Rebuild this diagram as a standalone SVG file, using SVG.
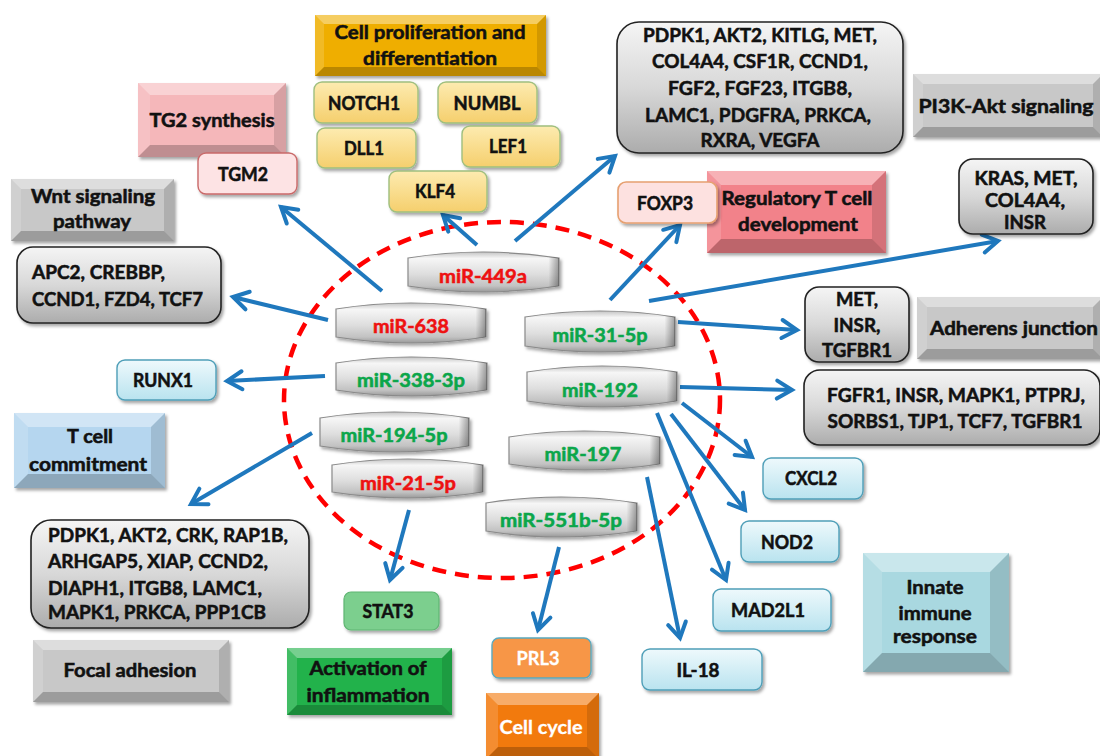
<svg xmlns="http://www.w3.org/2000/svg" width="1100" height="756" viewBox="0 0 1100 756">
<style>
text{font-family:Lato,"Liberation Sans",Arial,sans-serif;font-weight:700;font-size:19px;fill:#111;stroke:#111;stroke-width:.55;text-anchor:middle}
.l{text-anchor:start}
.red{fill:#ee1111;stroke:#ee1111}
.grn{fill:#0ba64a;stroke:#0ba64a}
.wht{fill:#fff;stroke:#fff;stroke-width:.3}
.bt{fill:#fff;fill-opacity:.38}
.bl{fill:#fff;fill-opacity:.15}
.br{fill:#000;fill-opacity:.12}
.bb{fill:#000;fill-opacity:.22}
.conn line{stroke:#1f78bd;stroke-width:4;marker-end:url(#ah)}
.gray{fill:url(#gGray);stroke:#222;stroke-width:1.6}
.yel{fill:url(#gYel);stroke:#9fbf7f;stroke-width:1.4}
.blu{fill:url(#gBlu);stroke:#4f9fb8;stroke-width:1.4}
.mir{fill:url(#gMir);stroke:#8a8a8a;stroke-width:1.2}
.sh{filter:url(#ds)}
</style>
<defs>
<filter id="ds" x="-10%" y="-10%" width="125%" height="130%"><feDropShadow dx="2" dy="2.5" stdDeviation="1.5" flood-color="#000" flood-opacity=".35"/></filter>
<linearGradient id="gGray" x1="0" y1="0" x2="0" y2="1"><stop offset="0" stop-color="#f5f5f5"/><stop offset=".5" stop-color="#d8d8d8"/><stop offset="1" stop-color="#acacac"/></linearGradient>
<linearGradient id="gYel" x1="0" y1="0" x2="0" y2="1"><stop offset="0" stop-color="#fdebb0"/><stop offset="1" stop-color="#f5cf6d"/></linearGradient>
<linearGradient id="gBlu" x1="0" y1="0" x2="0" y2="1"><stop offset="0" stop-color="#eef9fc"/><stop offset="1" stop-color="#b9e3ef"/></linearGradient>
<linearGradient id="gMir" x1="0" y1="0" x2="0" y2="1"><stop offset="0" stop-color="#c4c4c4"/><stop offset=".16" stop-color="#f6f6f6"/><stop offset=".55" stop-color="#dedede"/><stop offset=".85" stop-color="#c2c2c2"/><stop offset="1" stop-color="#999"/></linearGradient>
<linearGradient id="gMirR" x1="0" y1="0" x2="1" y2="0"><stop offset="0" stop-color="#000" stop-opacity="0"/><stop offset=".93" stop-color="#000" stop-opacity="0"/><stop offset="1" stop-color="#000" stop-opacity=".35"/></linearGradient>
<marker id="ah" markerUnits="userSpaceOnUse" markerWidth="24" markerHeight="24" viewBox="0 0 24 24" refX="20" refY="12" orient="auto"><path d="M5,3 L20,12 L5,21" fill="none" stroke="#1f78bd" stroke-width="4" stroke-linecap="round" stroke-linejoin="miter"/></marker>
</defs>
<rect width="1100" height="756" fill="#fff"/>

<ellipse id="boundary" cx="502" cy="400" rx="218" ry="178" fill="none" stroke="#ff0000" stroke-width="4.5" stroke-dasharray="14 9"/>

<g class="conn" id="connectors">
<line x1="382" y1="291" x2="281" y2="207"/>
<line x1="477" y1="245" x2="443" y2="215"/>
<line x1="515" y1="241" x2="615" y2="156"/>
<line x1="328" y1="320" x2="233" y2="297"/>
<line x1="325" y1="376" x2="227" y2="381"/>
<line x1="312" y1="433" x2="191" y2="504"/>
<line x1="409" y1="510" x2="390" y2="580"/>
<line x1="559" y1="547" x2="538" y2="630"/>
<line x1="647" y1="477" x2="680" y2="638"/>
<line x1="610" y1="300" x2="680" y2="225"/>
<line x1="649" y1="301" x2="998" y2="241"/>
<line x1="678" y1="322" x2="797" y2="330"/>
<line x1="680" y1="387" x2="792" y2="390"/>
<line x1="682" y1="403" x2="752" y2="457"/>
<line x1="671" y1="414" x2="745" y2="510"/>
<line x1="657" y1="413" x2="726" y2="580"/>
</g>

<!-- category bevel boxes -->
<g id="cell-proliferation">
<rect class="sh" x="315" y="15" width="231" height="61" fill="#efae05"/>
<polygon class="bt" points="315,15 546,15 537,24 324,24"/><polygon class="bl" points="315,15 324,24 324,67 315,76"/><polygon class="br" points="546,15 546,76 537,67 537,24"/><polygon class="bb" points="315,76 324,67 537,67 546,76"/>
<text x="430" y="39" textLength="191" lengthAdjust="spacingAndGlyphs">Cell proliferation and</text>
<text x="430" y="65" textLength="134" lengthAdjust="spacingAndGlyphs">differentiation</text>
</g>
<g id="tg2-synthesis">
<rect class="sh" x="138" y="83" width="148" height="74" fill="#f5b7ba"/>
<polygon class="bt" points="138,83 286,83 274,95 150,95"/><polygon class="bl" points="138,83 150,95 150,145 138,157"/><polygon class="br" points="286,83 286,157 274,145 274,95"/><polygon class="bb" points="138,157 150,145 274,145 286,157"/>
<text x="212" y="127" textLength="125" lengthAdjust="spacingAndGlyphs">TG2 synthesis</text>
</g>
<g id="wnt">
<rect class="sh" x="11" y="179" width="163" height="62" fill="#c8c8c8"/>
<polygon class="bt" points="11,179 174,179 164,189 21,189"/><polygon class="bl" points="11,179 21,189 21,231 11,241"/><polygon class="br" points="174,179 174,241 164,231 164,189"/><polygon class="bb" points="11,241 21,231 164,231 174,241"/>
<text x="93" y="203" textLength="124" lengthAdjust="spacingAndGlyphs">Wnt signaling</text>
<text x="92" y="228" textLength="78" lengthAdjust="spacingAndGlyphs">pathway</text>
</g>
<g id="t-cell-commitment">
<rect class="sh" x="14" y="413" width="151" height="75" fill="#b5d6ef"/>
<polygon class="bt" points="14,413 165,413 151,427 28,427"/><polygon class="bl" points="14,413 28,427 28,474 14,488"/><polygon class="br" points="165,413 165,488 151,474 151,427"/><polygon class="bb" points="14,488 28,474 151,474 165,488"/>
<text x="90" y="443" textLength="46" lengthAdjust="spacingAndGlyphs">T cell</text>
<text x="88" y="471" textLength="118" lengthAdjust="spacingAndGlyphs">commitment</text>
</g>
<g id="pi3k">
<rect class="sh" x="913" y="74" width="190" height="63" fill="#c8c8c8"/>
<polygon class="bt" points="913,74 1103,74 1093,84 923,84"/><polygon class="bl" points="913,74 923,84 923,127 913,137"/><polygon class="br" points="1103,74 1103,137 1093,127 1093,84"/><polygon class="bb" points="913,137 923,127 1093,127 1103,137"/>
<text x="1006" y="113" textLength="175" lengthAdjust="spacingAndGlyphs">PI3K-Akt signaling</text>
</g>
<g id="regulatory-t">
<rect class="sh" x="707" y="171" width="179" height="82" fill="#f2828a"/>
<polygon class="bt" points="707,171 886,171 872,185 721,185"/><polygon class="bl" points="707,171 721,185 721,239 707,253"/><polygon class="br" points="886,171 886,253 872,239 872,185"/><polygon class="bb" points="707,253 721,239 872,239 886,253"/>
<text x="797" y="205" textLength="151" lengthAdjust="spacingAndGlyphs">Regulatory T cell</text>
<text x="798" y="231" textLength="120" lengthAdjust="spacingAndGlyphs">development</text>
</g>
<g id="adherens">
<rect class="sh" x="917" y="297" width="186" height="62" fill="#c8c8c8"/>
<polygon class="bt" points="917,297 1103,297 1093,307 927,307"/><polygon class="bl" points="917,297 927,307 927,349 917,359"/><polygon class="br" points="1103,297 1103,359 1093,349 1093,307"/><polygon class="bb" points="917,359 927,349 1093,349 1103,359"/>
<text x="1014" y="335" textLength="168" lengthAdjust="spacingAndGlyphs">Adherens junction</text>
</g>
<g id="focal-adhesion">
<rect class="sh" x="33" y="640" width="196" height="62" fill="#c8c8c8"/>
<polygon class="bt" points="33,640 229,640 219,650 43,650"/><polygon class="bl" points="33,640 43,650 43,692 33,702"/><polygon class="br" points="229,640 229,702 219,692 219,650"/><polygon class="bb" points="33,702 43,692 219,692 229,702"/>
<text x="130" y="677" textLength="133" lengthAdjust="spacingAndGlyphs">Focal adhesion</text>
</g>
<g id="inflammation">
<rect class="sh" x="287" y="648" width="165" height="67" fill="#20b24b"/>
<polygon class="bt" points="287,648 452,648 442,658 297,658"/><polygon class="bl" points="287,648 297,658 297,705 287,715"/><polygon class="br" points="452,648 452,715 442,705 442,658"/><polygon class="bb" points="287,715 297,705 442,705 452,715"/>
<text x="368" y="675" textLength="117" lengthAdjust="spacingAndGlyphs">Activation of</text>
<text x="368" y="702" textLength="123" lengthAdjust="spacingAndGlyphs">inflammation</text>
</g>
<g id="cell-cycle">
<rect class="sh" x="486" y="693" width="113" height="66" fill="#f27a0e"/>
<polygon class="bt" points="486,693 599,693 587,705 498,705"/><polygon class="bl" points="486,693 498,705 498,747 486,759"/><polygon class="br" points="599,693 599,759 587,747 587,705"/><polygon class="bb" points="486,759 498,747 587,747 599,759"/>
<text class="wht" x="541" y="734" textLength="83" lengthAdjust="spacingAndGlyphs">Cell cycle</text>
</g>
<g id="innate">
<rect class="sh" x="863" y="553" width="146" height="119" fill="#a9d8e0"/>
<polygon class="bt" points="863,553 1009,553 990,572 882,572"/><polygon class="bl" points="863,553 882,572 882,653 863,672"/><polygon class="br" points="1009,553 1009,672 990,653 990,572"/><polygon class="bb" points="863,672 882,653 990,653 1009,672"/>
<text x="935" y="594" textLength="57" lengthAdjust="spacingAndGlyphs">Innate</text>
<text x="935" y="620" textLength="73" lengthAdjust="spacingAndGlyphs">immune</text>
<text x="935" y="643" textLength="84" lengthAdjust="spacingAndGlyphs">response</text>
</g>

<!-- gene boxes -->
<g id="notch1"><rect class="yel sh" x="314" y="82" width="104" height="41" rx="8"/><text x="364" y="110" textLength="72" lengthAdjust="spacingAndGlyphs">NOTCH1</text></g>
<g id="numbl"><rect class="yel sh" x="438" y="82" width="99" height="41" rx="8"/><text x="487" y="110" textLength="67" lengthAdjust="spacingAndGlyphs">NUMBL</text></g>
<g id="dll1"><rect class="yel sh" x="317" y="128" width="99" height="40" rx="8"/><text x="364" y="155" textLength="40" lengthAdjust="spacingAndGlyphs">DLL1</text></g>
<g id="lef1"><rect class="yel sh" x="462" y="126" width="98" height="41" rx="8"/><text x="508" y="153" textLength="38" lengthAdjust="spacingAndGlyphs">LEF1</text></g>
<g id="klf4"><rect class="yel sh" x="389" y="171" width="98" height="41" rx="8"/><text x="435" y="198" textLength="40" lengthAdjust="spacingAndGlyphs">KLF4</text></g>
<g id="tgm2"><rect class="sh" x="198" y="153" width="99" height="41" rx="8" fill="#fde3e4" stroke="#c96a6a" stroke-width="1.4"/><text x="243" y="181" textLength="50" lengthAdjust="spacingAndGlyphs">TGM2</text></g>
<g id="wnt-genes"><rect class="gray sh" x="17" y="247" width="204" height="76" rx="16"/>
<text class="l" x="32" y="279" textLength="133" lengthAdjust="spacingAndGlyphs">APC2, CREBBP,</text>
<text class="l" x="32" y="306" textLength="171" lengthAdjust="spacingAndGlyphs">CCND1, FZD4, TCF7</text></g>
<g id="runx1"><rect class="blu sh" x="117" y="360" width="99" height="40" rx="8"/><text x="163" y="387" textLength="60" lengthAdjust="spacingAndGlyphs">RUNX1</text></g>
<g id="pi3k-genes"><rect class="gray sh" x="617" y="22" width="286" height="131" rx="22"/>
<text x="760" y="42" textLength="234" lengthAdjust="spacingAndGlyphs">PDPK1, AKT2, KITLG, MET,</text>
<text x="760" y="68" textLength="216" lengthAdjust="spacingAndGlyphs">COL4A4, CSF1R, CCND1,</text>
<text x="760" y="95" textLength="184" lengthAdjust="spacingAndGlyphs">FGF2, FGF23, ITGB8,</text>
<text x="758" y="122" textLength="226" lengthAdjust="spacingAndGlyphs">LAMC1, PDGFRA, PRKCA,</text>
<text x="760" y="147" textLength="119" lengthAdjust="spacingAndGlyphs">RXRA, VEGFA</text></g>
<g id="foxp3"><rect class="sh" x="618" y="182" width="99" height="41" rx="8" fill="#fde1e0" stroke="#e6a070" stroke-width="1.6"/><text x="665" y="210" textLength="56" lengthAdjust="spacingAndGlyphs">FOXP3</text></g>
<g id="kras-genes"><rect class="gray sh" x="959" y="159" width="134" height="75" rx="14"/>
<text x="1026" y="185" textLength="103" lengthAdjust="spacingAndGlyphs">KRAS, MET,</text>
<text x="1025" y="207" textLength="80" lengthAdjust="spacingAndGlyphs">COL4A4,</text>
<text x="1025" y="229" textLength="42" lengthAdjust="spacingAndGlyphs">INSR</text></g>
<g id="adherens-genes-1"><rect class="gray sh" x="805" y="287" width="104" height="75" rx="14"/>
<text x="857" y="306" textLength="42" lengthAdjust="spacingAndGlyphs">MET,</text>
<text x="857" y="332" textLength="47" lengthAdjust="spacingAndGlyphs">INSR,</text>
<text x="857" y="357" textLength="70" lengthAdjust="spacingAndGlyphs">TGFBR1</text></g>
<g id="adherens-genes-2"><rect class="gray sh" x="804" y="370" width="296" height="75" rx="16"/>
<text x="956" y="402" textLength="258" lengthAdjust="spacingAndGlyphs">FGFR1, INSR, MAPK1, PTPRJ,</text>
<text x="955" y="428" textLength="255" lengthAdjust="spacingAndGlyphs">SORBS1, TJP1, TCF7, TGFBR1</text></g>
<g id="cxcl2"><rect class="blu sh" x="763" y="458" width="100" height="41" rx="8"/><text x="811" y="485" textLength="52" lengthAdjust="spacingAndGlyphs">CXCL2</text></g>
<g id="nod2"><rect class="blu sh" x="741" y="521" width="98" height="41" rx="8"/><text x="787" y="549" textLength="52" lengthAdjust="spacingAndGlyphs">NOD2</text></g>
<g id="mad2l1"><rect class="blu sh" x="713" y="589" width="118" height="42" rx="8"/><text x="768" y="617" textLength="74" lengthAdjust="spacingAndGlyphs">MAD2L1</text></g>
<g id="il18"><rect class="blu sh" x="642" y="649" width="120" height="41" rx="8"/><text x="698" y="677" textLength="43" lengthAdjust="spacingAndGlyphs">IL-18</text></g>
<g id="focal-genes"><rect class="gray sh" x="31" y="520" width="278" height="108" rx="20"/>
<text class="l" x="48" y="542" textLength="240" lengthAdjust="spacingAndGlyphs">PDPK1, AKT2, CRK, RAP1B,</text>
<text class="l" x="48" y="568" textLength="220" lengthAdjust="spacingAndGlyphs">ARHGAP5, XIAP, CCND2,</text>
<text class="l" x="48" y="595" textLength="214" lengthAdjust="spacingAndGlyphs">DIAPH1, ITGB8, LAMC1,</text>
<text class="l" x="48" y="619" textLength="218" lengthAdjust="spacingAndGlyphs">MAPK1, PRKCA, PPP1CB</text></g>
<g id="stat3"><rect class="sh" x="344" y="592" width="95" height="38" rx="7" fill="#7ccf8e" stroke="#5fb572" stroke-width="1.2"/><text x="388" y="618" textLength="51" lengthAdjust="spacingAndGlyphs">STAT3</text></g>
<g id="prl3"><rect class="sh" x="492" y="638" width="99" height="40" rx="7" fill="#f79646" stroke="#5aa9bf" stroke-width="1.4"/><text class="wht" x="538" y="665" textLength="43" lengthAdjust="spacingAndGlyphs">PRL3</text></g>

<!-- miRNAs -->
<g id="mir-449a"><path class="mir sh" d="M408,258 Q483,246 559,258 L559,286 Q483,298 408,286 Z"/><path d="M408,258 Q483,246 559,258 L559,286 Q483,298 408,286 Z" fill="url(#gMirR)"/><text class="red" x="483" y="283" textLength="88" lengthAdjust="spacingAndGlyphs">miR-449a</text></g>
<g id="mir-638"><path class="mir sh" d="M336,309 Q411,297 486,309 L486,337 Q411,349 336,337 Z"/><path d="M336,309 Q411,297 486,309 L486,337 Q411,349 336,337 Z" fill="url(#gMirR)"/><text class="red" x="411" y="333" textLength="76" lengthAdjust="spacingAndGlyphs">miR-638</text></g>
<g id="mir-338-3p"><path class="mir sh" d="M336,363 Q411,351 487,363 L487,390 Q411,402 336,390 Z"/><path d="M336,363 Q411,351 487,363 L487,390 Q411,402 336,390 Z" fill="url(#gMirR)"/><text class="grn" x="411" y="387" textLength="108" lengthAdjust="spacingAndGlyphs">miR-338-3p</text></g>
<g id="mir-194-5p"><path class="mir sh" d="M320,418 Q394,406 469,418 L469,446 Q394,458 320,446 Z"/><path d="M320,418 Q394,406 469,418 L469,446 Q394,458 320,446 Z" fill="url(#gMirR)"/><text class="grn" x="394" y="442" textLength="107" lengthAdjust="spacingAndGlyphs">miR-194-5p</text></g>
<g id="mir-21-5p"><path class="mir sh" d="M332,465 Q408,453 483,465 L483,492 Q408,504 332,492 Z"/><path d="M332,465 Q408,453 483,465 L483,492 Q408,504 332,492 Z" fill="url(#gMirR)"/><text class="red" x="408" y="490" textLength="96" lengthAdjust="spacingAndGlyphs">miR-21-5p</text></g>
<g id="mir-31-5p"><path class="mir sh" d="M525,317 Q600,305 675,317 L675,346 Q600,358 525,346 Z"/><path d="M525,317 Q600,305 675,317 L675,346 Q600,358 525,346 Z" fill="url(#gMirR)"/><text class="grn" x="600" y="342" textLength="95" lengthAdjust="spacingAndGlyphs">miR-31-5p</text></g>
<g id="mir-192"><path class="mir sh" d="M527,372 Q602,360 677,372 L677,401 Q602,413 527,401 Z"/><path d="M527,372 Q602,360 677,372 L677,401 Q602,413 527,401 Z" fill="url(#gMirR)"/><text class="grn" x="600" y="397" textLength="76" lengthAdjust="spacingAndGlyphs">miR-192</text></g>
<g id="mir-197"><path class="mir sh" d="M509,437 Q584,425 660,437 L660,464 Q584,476 509,464 Z"/><path d="M509,437 Q584,425 660,437 L660,464 Q584,476 509,464 Z" fill="url(#gMirR)"/><text class="grn" x="583" y="461" textLength="77" lengthAdjust="spacingAndGlyphs">miR-197</text></g>
<g id="mir-551b-5p"><path class="mir sh" d="M486,503 Q561,491 637,503 L637,531 Q561,543 486,531 Z"/><path d="M486,503 Q561,491 637,503 L637,531 Q561,543 486,531 Z" fill="url(#gMirR)"/><text class="grn" x="561" y="527" textLength="122" lengthAdjust="spacingAndGlyphs">miR-551b-5p</text></g>
</svg>
